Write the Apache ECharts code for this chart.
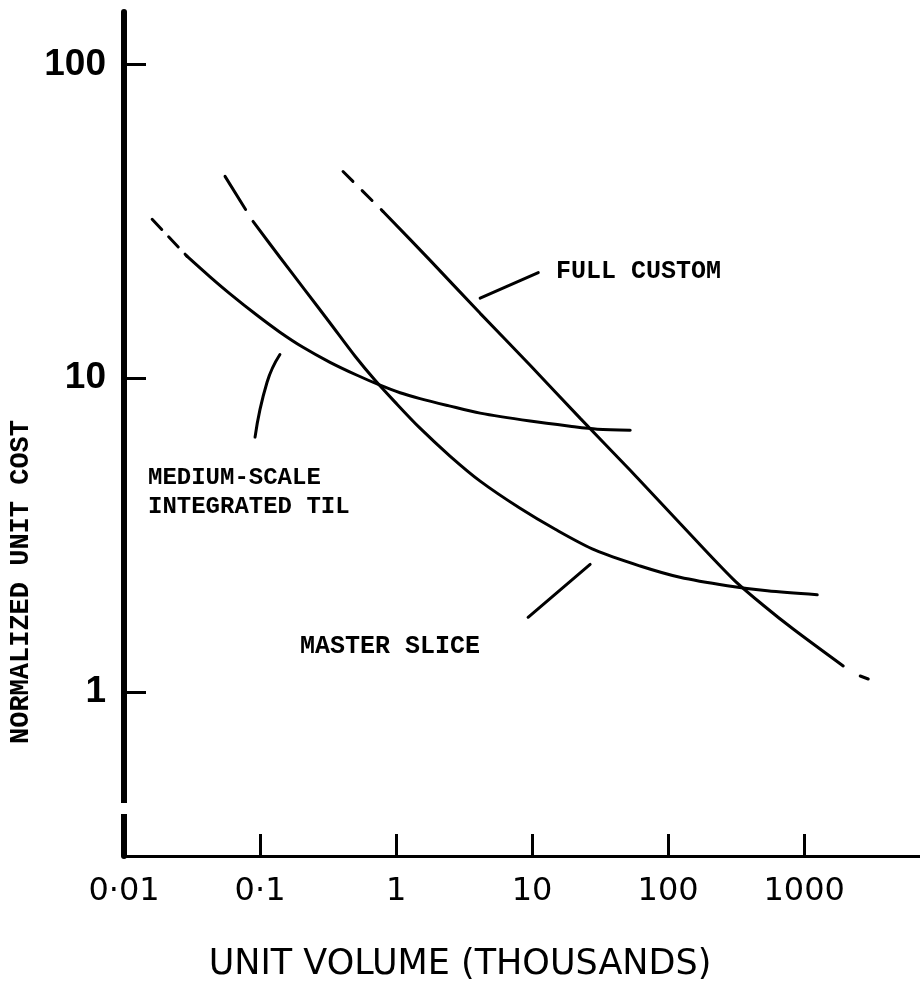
<!DOCTYPE html>
<html>
<head>
<meta charset="utf-8">
<title>Normalized unit cost vs unit volume</title>
<script src="https://cdn.jsdelivr.net/npm/echarts@6/dist/echarts.min.js"></script>
<style>
html, body { margin: 0; padding: 0; background: #fff; }
#chart { width: 920px; height: 984px; }
</style>
</head>
<body>
<div id="chart"></div>
<script>
/*-----数据 S------*/
var xTickValues = [0.1, 1, 10, 100, 1000];
var xLabelValues = [0.01, 0.1, 1, 10, 100, 1000];
var xLabelText = ['0·01', '0·1', '1', '10', '100', '1000'];
var yTickValues = [1, 10, 100];
var yLabelText = ['1', '10', '100'];

// medium-scale integrated TTL
var ttlHeadX = [0.0161, 0.0290];
var ttlHeadY = [32.1, 24.5];
var ttlX = [0.0290, 0.0429, 0.0602, 0.0951, 0.140, 0.207, 0.327, 0.517, 0.763, 1.07, 1.50, 2.41, 4.15, 9.67, 19.0, 30.1, 52.6];
var ttlY = [24.5, 21.05, 18.58, 15.87, 14.02, 12.55, 11.24, 10.22, 9.50, 8.99, 8.61, 8.18, 7.74, 7.30, 7.03, 6.88, 6.83];

// master slice
var msHeadX = [0.0553, 0.0888];
var msHeadY = [44.0, 31.6];
var msX = [0.0888, 0.140, 0.214, 0.327, 0.500, 0.701, 0.983, 1.50, 2.49, 4.15, 8.16, 14.8, 29.1, 62.2, 122, 272, 535, 1247];
var msY = [31.6, 24.3, 19.1, 15.0, 11.75, 9.85, 8.39, 6.93, 5.65, 4.70, 3.85, 3.30, 2.83, 2.52, 2.32, 2.18, 2.10, 2.04];

// full custom
var fcHeadX = [0.4075, 0.802];
var fcHeadY = [45.6, 34.0];
var fcX = [0.802, 1.78, 4.15, 9.67, 22.5, 52.6, 122, 300, 500, 830, 1936];
var fcY = [34.0, 23.75, 16.1, 11.0, 7.46, 5.09, 3.45, 2.29, 1.89, 1.587, 1.21];
var fcTailX = [2582, 2956];
var fcTailY = [1.124, 1.10];

// pointer strokes from the labels to the curves
var fcLeaderX = [4.15, 11.1];
var fcLeaderY = [18.0, 21.7];
var ttlLeaderX = [0.140, 0.1126, 0.0919];
var ttlLeaderY = [11.9, 9.71, 6.49];
var msLeaderX = [26.7, 9.34];
var msLeaderY = [2.55, 1.73];
/*-----数据 E------*/

function pairs(xs, ys) {
	var out = [];
	for (var i = 0; i < xs.length; i++) {
		out.push([xs[i], ys[i]]);
	}
	return out;
}

function curve(name, xs, ys, dash, smooth) {
	return {
		name: name,
		type: 'line',
		data: pairs(xs, ys),
		symbol: 'none',
		smooth: smooth || 0,
		silent: true,
		lineStyle: {
			color: '#000',
			width: 3,
			type: dash || 'solid',
			cap: 'round'
		}
	};
}

function pickLabel(values, texts, v) {
	for (var i = 0; i < values.length; i++) {
		if (Math.abs(Math.log10(v) - Math.log10(values[i])) < 0.01) {
			return texts[i];
		}
	}
	return '';
}

function note(text, x, y, size, extra) {
	var el = {
		type: 'text',
		x: x,
		y: y,
		style: {
			text: text,
			fill: '#000',
			fontFamily: 'Liberation Mono',
			fontWeight: 'bold',
			fontSize: size,
			textAlign: 'left',
			textVerticalAlign: 'middle'
		}
	};
	if (extra) {
		for (var k in extra) {
			el.style[k] = extra[k];
		}
	}
	return el;
}

var option = {
	animation: false,
	backgroundColor: '#fff',
	grid: {
		left: 124,
		right: 0,
		top: 12,
		bottom: 128
	},
	xAxis: {
		type: 'log',
		logBase: 10,
		min: 0.01,
		max: 7100,
		axisLine: {
			show: true,
			onZero: false,
			lineStyle: { color: '#000', width: 3 }
		},
		axisTick: {
			show: true,
			inside: true,
			length: 22,
			customValues: xTickValues,
			lineStyle: { color: '#000', width: 3 }
		},
		axisLabel: {
			customValues: xLabelValues,
			margin: 20,
			color: '#000',
			fontSize: 32,
			fontFamily: "'DejaVu Sans', sans-serif",
			formatter: function (v) {
				return pickLabel(xLabelValues, xLabelText, v);
			}
		},
		splitLine: { show: false }
	},
	yAxis: {
		type: 'log',
		logBase: 10,
		min: 0.3,
		max: 147,
		axisLine: {
			show: true,
			lineStyle: { color: '#000', width: 6 }
		},
		axisTick: {
			show: true,
			inside: true,
			length: 22,
			customValues: yTickValues,
			lineStyle: { color: '#000', width: 3 }
		},
		axisLabel: {
			customValues: yTickValues,
			margin: 18,
			color: '#000',
			fontSize: 37,
			fontWeight: 'bold',
			fontFamily: "'Liberation Sans', sans-serif",
			formatter: function (v) {
				return pickLabel(yTickValues, yLabelText, v);
			}
		},
		splitLine: { show: false }
	},
	graphic: [
		{
			type: 'rect',
			shape: { x: 118, y: 803, width: 13, height: 11 },
			style: { fill: '#fff' },
			z: 100
		},
		{
			type: 'text',
			x: 21,
			y: 582,
			rotation: Math.PI / 2,
			style: {
				text: 'NORMALIZED UNIT COST',
				fill: '#000',
				fontFamily: 'Liberation Mono',
				fontWeight: 'bold',
				fontSize: 27,
				textAlign: 'center',
				textVerticalAlign: 'middle'
			}
		},
		{
			type: 'text',
			x: 460,
			y: 965,
			style: {
				text: 'UNIT VOLUME (THOUSANDS)',
				fill: '#000',
				fontFamily: 'DejaVu Sans',
				fontSize: 35,
				textAlign: 'center',
				textVerticalAlign: 'middle'
			}
		},
		note('FULL CUSTOM', 556, 272, 25),
		note('MEDIUM-SCALE\nINTEGRATED TIL', 148, 463, 24, { lineHeight: 29, textVerticalAlign: 'top' }),
		note('MASTER SLICE', 300, 647, 25)
	],
	series: [
		curve('TTL head', ttlHeadX, ttlHeadY, [14, 10]),
		curve('Medium-scale integrated TTL', ttlX, ttlY, 'solid', 0.3),
		curve('Master slice head', msHeadX, msHeadY, [39, 20]),
		curve('Master slice', msX, msY, 'solid', 0.3),
		curve('Full custom head', fcHeadX, fcHeadY, [14, 13]),
		curve('Full custom', fcX, fcY, 'solid', 0.3),
		curve('Full custom tail', fcTailX, fcTailY),
		curve('Full custom leader', fcLeaderX, fcLeaderY),
		curve('TTL leader', ttlLeaderX, ttlLeaderY, 'solid', 0.5),
		curve('Master slice leader', msLeaderX, msLeaderY)
	]
};

echarts.init(document.getElementById('chart')).setOption(option, true);
</script>
</body>
</html>
